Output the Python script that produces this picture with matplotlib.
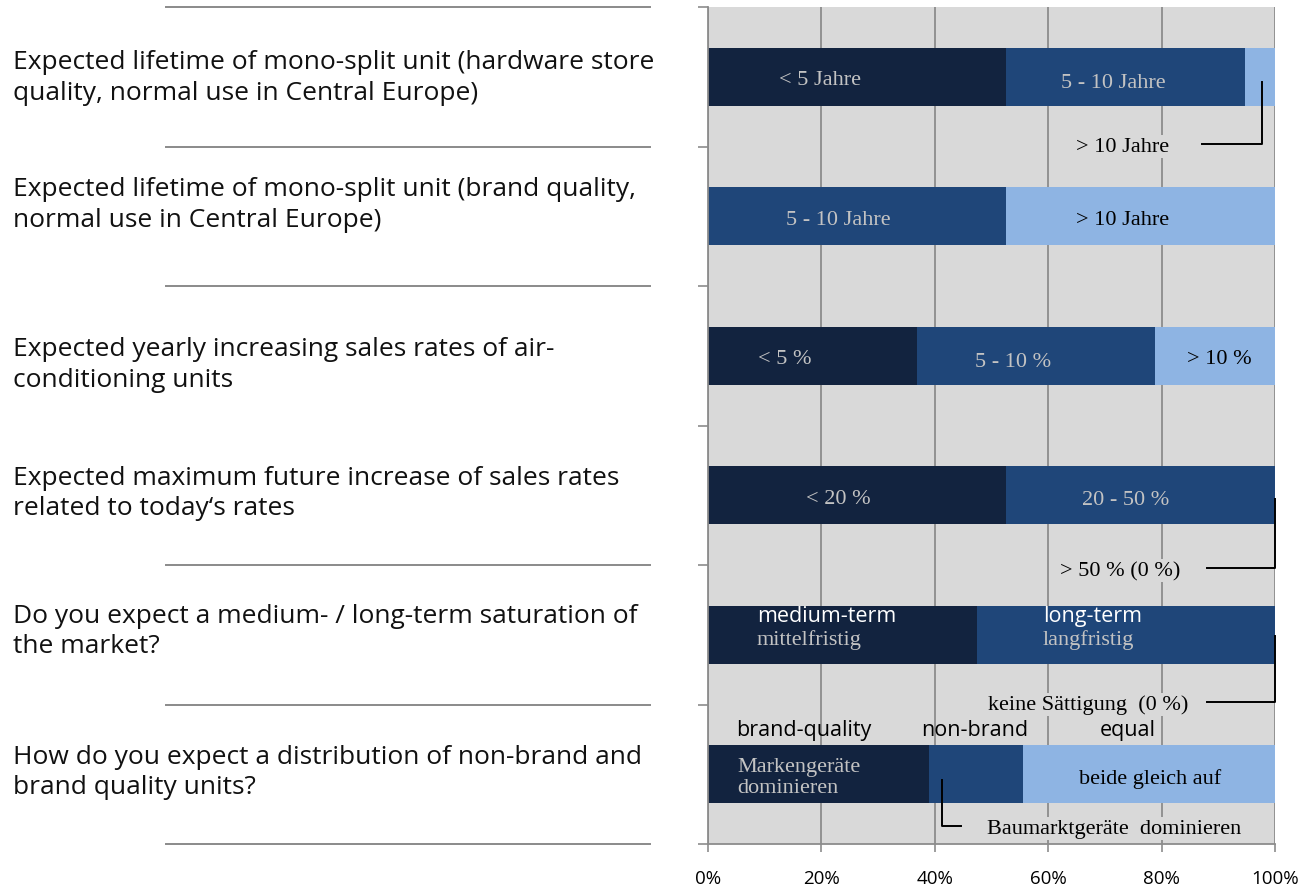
import numpy as np
import matplotlib.pyplot as plt
from matplotlib.lines import Line2D
from matplotlib.transforms import blended_transform_factory

# survey questions (left column), top to bottom
questions = [
    "Expected lifetime of mono-split unit (hardware store\nquality, normal use in Central Europe)",
    "Expected lifetime of mono-split unit (brand quality,\nnormal use in Central Europe)",
    "Expected yearly increasing sales rates of air-\nconditioning units",
    "Expected maximum future increase of sales rates\nrelated to today\u2018s rates",
    "Do you expect a medium- / long-term saturation of\nthe market?",
    "How do you expect a distribution of non-brand and\nbrand quality units?",
]

# share of answers in %, three answer groups per question
low = [52.6, 0.0, 36.8, 52.6, 47.4, 38.9]
mid = [42.1, 52.6, 42.1, 47.4, 52.6, 16.7]
high = [5.3, 47.4, 21.1, 0.0, 0.0, 44.4]

xticks = [0, 20, 40, 60, 80, 100]

c_dark = "#12233F"
c_mid = "#1F4679"
c_light = "#8EB4E3"
c_bg = "#D9D9D9"
c_grid = "#8C8C8C"
c_txt = "#C3C3C3"

serif = "Liberation Serif"
sans = "Open Sans"

fig = plt.figure(figsize=(13.05, 8.87), dpi=100)
ax = fig.add_axes([708 / 1305, 1 - 845 / 887, 567 / 1305, 837 / 887])

y = np.arange(len(questions))
low = np.array(low)
mid = np.array(mid)
high = np.array(high)
h = 0.416
ax.barh(y, low, height=h, color=c_dark, zorder=2)
ax.barh(y, mid, left=low, height=h, color=c_mid, zorder=2)
ax.barh(y, high, left=low + mid, height=h, color=c_light, zorder=2)

ax.set_xlim(0, 100)
ax.set_ylim(5.5, -0.5)
ax.set_facecolor(c_bg)
ax.set_xticks(xticks)
ax.set_xticklabels([f"{v}%" for v in xticks], fontsize=13.5, family=sans)
ax.set_yticks(np.arange(-0.5, 6, 1))
ax.set_yticklabels([])
ax.xaxis.grid(True, color=c_grid, lw=1.3, zorder=0)
ax.set_axisbelow(True)
ax.tick_params(axis="y", length=7, color=c_grid, width=1.2)
ax.tick_params(axis="x", length=6, color=c_grid, width=1.2, pad=12)
for s in ["top", "right"]:
    ax.spines[s].set_visible(False)
for s in ["left", "bottom"]:
    ax.spines[s].set_color(c_grid)
    ax.spines[s].set_linewidth(1.3)

# left column: question texts and separator lines
tr = blended_transform_factory(fig.transFigure, ax.transData)
q_shift = [0.0, -0.09, 0.06, -0.02, -0.03, -0.02]
for i, q in enumerate(questions):
    ax.text(0.01, i + q_shift[i], q, transform=tr, ha="left", va="center",
            fontsize=19, family=sans, color="#111111", linespacing=1.3)
for b in [-0.5, 0.5, 1.5, 3.5, 4.5, 5.5]:
    ax.add_line(Line2D([166 / 1305, 650 / 1305], [b, b], transform=tr,
                       color="#8A8A8A", lw=1.4, clip_on=False))

# labels inside the bars
def lab(x, yy, s, color=c_txt, fam=serif, size=16, ha="center", **kw):
    ax.text(x, yy, s, color=color, family=fam, fontsize=size, ha=ha,
            va="center", zorder=4, **kw)

lab(19.8, 0.02, "< 5 Jahre")
lab(71.4, 0.04, "5 - 10 Jahre")
lab(22.9, 1.02, "5 - 10 Jahre")
lab(73.2, 1.02, "> 10 Jahre", color="black")
lab(13.6, 2.02, "< 5 %")
lab(53.8, 2.04, "5 - 10 %")
lab(90.1, 2.02, "> 10 %", color="black")
lab(22.9, 3.02, "< 20 %")
lab(73.7, 3.03, "20 - 50 %")
lab(8.6, 3.86, "medium-term", color="white", fam=sans, size=15.5, ha="left")
lab(8.6, 4.03, "mittelfristig", ha="left")
lab(59.1, 3.86, "long-term", color="white", fam=sans, size=15.5, ha="left")
lab(59.1, 4.03, "langfristig", ha="left")
lab(16.8, 4.68, "brand-quality", color="black", fam=sans, size=15.5)
lab(47.1, 4.68, "non-brand", color="black", fam=sans, size=15.5)
lab(74.0, 4.68, "equal", color="black", fam=sans, size=15.5)
lab(5.1, 5.02, "Markengeräte\ndominieren", ha="left", linespacing=1.15)
lab(78.0, 5.03, "beide gleich auf", color="black")

# callouts for thin / empty segments
box = dict(facecolor=c_bg, edgecolor="none", pad=1.5)
callouts = [
    (73.2, 0.50, "> 10 Jahre", [87.1, 97.7, 97.7], [0.48, 0.48, 0.04]),
    (72.7, 3.54, "> 50 % (0 %)", [88.0, 100, 100], [3.52, 3.52, 3.03]),
    (67.0, 4.50, "keine Sättigung  (0 %)", [88.0, 100, 100], [4.48, 4.48, 4.01]),
    (71.6, 5.39, "Baumarktgeräte  dominieren", [44.6, 41.3, 41.3], [5.37, 5.37, 5.04]),
]
for tx, ty, s, lx, ly in callouts:
    ax.text(tx, ty, s, color="black", family=serif, fontsize=16, ha="center",
            va="center", zorder=4, bbox=box)
    ax.plot(lx, ly, color="black", lw=1.4, zorder=5, clip_on=False)

fig.savefig("out.png", dpi=100)
